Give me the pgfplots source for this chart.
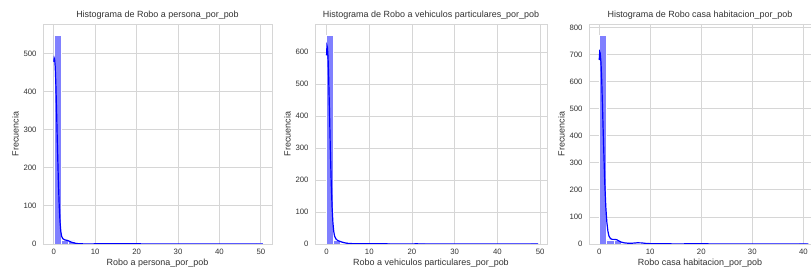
\documentclass[border=0pt]{standalone}
\usepackage{fontspec}
\setmainfont{Liberation Sans}
\usepackage{pgfplots}
\pgfplotsset{compat=1.18}
\definecolor{gridc}{RGB}{214,214,214}
\definecolor{txt}{RGB}{50,50,50}
\definecolor{barc}{RGB}{128,128,255}
\pgfplotsset{hist/.style={
  scale only axis, anchor=south west, height=220bp,
  ymin=0, axis line style={gridc, line width=0.8pt},
  grid=major, major grid style={gridc, line width=0.8pt},
  major tick length=0pt,
  /pgf/number format/assume math mode=true,
  scaled ticks=false,
  tick label style={font=\fontsize{7.8}{9}\selectfont, text=txt},
  xticklabel style={yshift=-2bp},
  yticklabel style={xshift=-3bp},
  label style={font=\fontsize{9}{10}\selectfont, text=txt},
  xlabel style={yshift=3bp},
  ylabel style={yshift=-2bp},
  title style={font=\fontsize{9}{10}\selectfont, text=txt, yshift=-5bp},
  ylabel={Frecuencia},
  xtick={0,10,20,30,40,50},
}}
\begin{document}
\begin{tikzpicture}
\useasboundingbox (0,0) rectangle (811bp,273bp);
% Panel 1
\begin{axis}[hist, at={(43bp,29bp)}, width=229bp,
  xmin=-2.6, xmax=52.7, ymax=577, ytick={0,100,200,300,400,500},
  title={Histograma de Robo a persona\_por\_pob},
  xlabel={Robo a persona\_por\_pob}]
\addplot[ybar interval, fill=barc, draw=white, line width=0.3pt] coordinates {
(0,548)(1.69,11)(3.38,8)(5.07,2)(6.76,1)(8.45,1)(10.14,0)(11.83,1)(13.52,0)(15.21,0)
(16.9,0)(18.59,1)(20.28,0)(21.97,0)(23.66,0)(25.35,0)(27.04,0)(28.73,0)(30.42,0)(32.11,0)
(33.8,0)(35.49,0)(37.18,0)(38.87,0)(40.56,0)(42.25,0)(43.94,0)(45.63,0)(47.32,0)(49.01,1)(50.7,0)};
\addplot[blue, line width=1.2pt] coordinates {
(0,478)(0.1,488)(0.2,485)(0.35,465)(0.5,420)(0.7,340)(0.9,250)(1.1,170)(1.3,105)(1.5,60)
(1.7,33)(1.9,20)(2.2,14)(2.6,11)(3.0,10)(3.5,8.5)(4.0,6)(4.5,4)(5.0,2.5)(5.5,1.5)(6.0,0.8)
(7,0.4)(9,0.3)(11,0.6)(13,0.7)(15,0.5)(17,0.4)(19,0.5)(21,0.4)(24,0.2)(28,0.1)(35,0)(45,0)(48,0.1)(50.5,0.2)};
\end{axis}
% Panel 2
\begin{axis}[hist, at={(315bp,29bp)}, width=232bp,
  xmin=-2.7, xmax=51.6, ymax=688, ytick={0,100,200,300,400,500,600},
  title={Histograma de Robo a vehiculos particulares\_por\_pob},
  xlabel={Robo a vehiculos particulares\_por\_pob}]
\addplot[ybar interval, fill=barc, draw=white, line width=0.3pt] coordinates {
(0,653)(1.65,12)(3.3,4)(4.95,2)(6.6,1)(8.25,1)(9.9,0)(11.55,0)(13.2,1)(14.85,0)
(16.5,0)(18.15,0)(19.8,0)(21.45,1)(23.1,0)(24.75,0)(26.4,0)(28.05,0)(29.7,0)(31.35,0)
(33,0)(34.65,0)(36.3,0)(37.95,0)(39.6,0)(41.25,0)(42.9,0)(44.55,0)(46.2,0)(47.85,1)(49.5,0)};
\addplot[blue, line width=1.2pt] coordinates {
(0,590)(0.1,620)(0.2,615)(0.35,585)(0.5,520)(0.7,410)(0.9,290)(1.1,190)(1.3,115)(1.5,65)
(1.7,38)(1.9,24)(2.2,16)(2.6,11)(3.0,9)(3.5,6.5)(4.0,4.5)(4.5,3)(5.0,2)(6,1.2)(7,0.8)
(9,0.5)(11,0.5)(13,0.6)(15,0.4)(18,0.3)(21,0.5)(24,0.3)(28,0.1)(35,0)(45,0)(47,0.1)(49.5,0.3)};
\end{axis}
% Panel 3
\begin{axis}[hist, at={(589bp,29bp)}, width=222bp,
  xmin=-2, xmax=41.5, ymax=813, ytick={0,100,200,300,400,500,600,700,800},
  title={Histograma de Robo casa habitacion\_por\_pob},
  xlabel={Robo casa habitacion\_por\_pob}]
\addplot[ybar interval, fill=barc, draw=white, line width=0.3pt] coordinates {
(0,771)(1.45,15)(2.9,14)(4.35,4)(5.8,2)(7.25,4)(8.7,1)(10.15,0)(11.6,0)(13.05,0)
(14.5,0)(15.95,0)(17.4,0)(18.85,1)(20.3,0)(21.75,0)(23.2,0)(24.65,0)(26.1,0)(27.55,0)
(29,0)(30.45,0)(31.9,0)(33.35,0)(34.8,0)(36.25,0)(37.7,0)(39.15,1)(40.6,0)};
\addplot[blue, line width=1.2pt] coordinates {
(0,680)(0.1,710)(0.2,705)(0.35,670)(0.5,600)(0.7,470)(0.9,340)(1.1,220)(1.3,135)(1.5,80)
(1.7,48)(1.9,30)(2.2,20)(2.6,17)(3.0,17)(3.4,16)(3.8,12)(4.3,7)(5.0,4)(5.8,2.5)(6.5,3)
(7.5,4.5)(8.3,4)(9.2,2)(10.5,1)(13,0.6)(16,0.5)(19,0.8)(21,0.6)(24,0.3)(28,0.1)(35,0)(39,0.2)(41,0.3)};
\end{axis}
\end{tikzpicture}
\end{document}
